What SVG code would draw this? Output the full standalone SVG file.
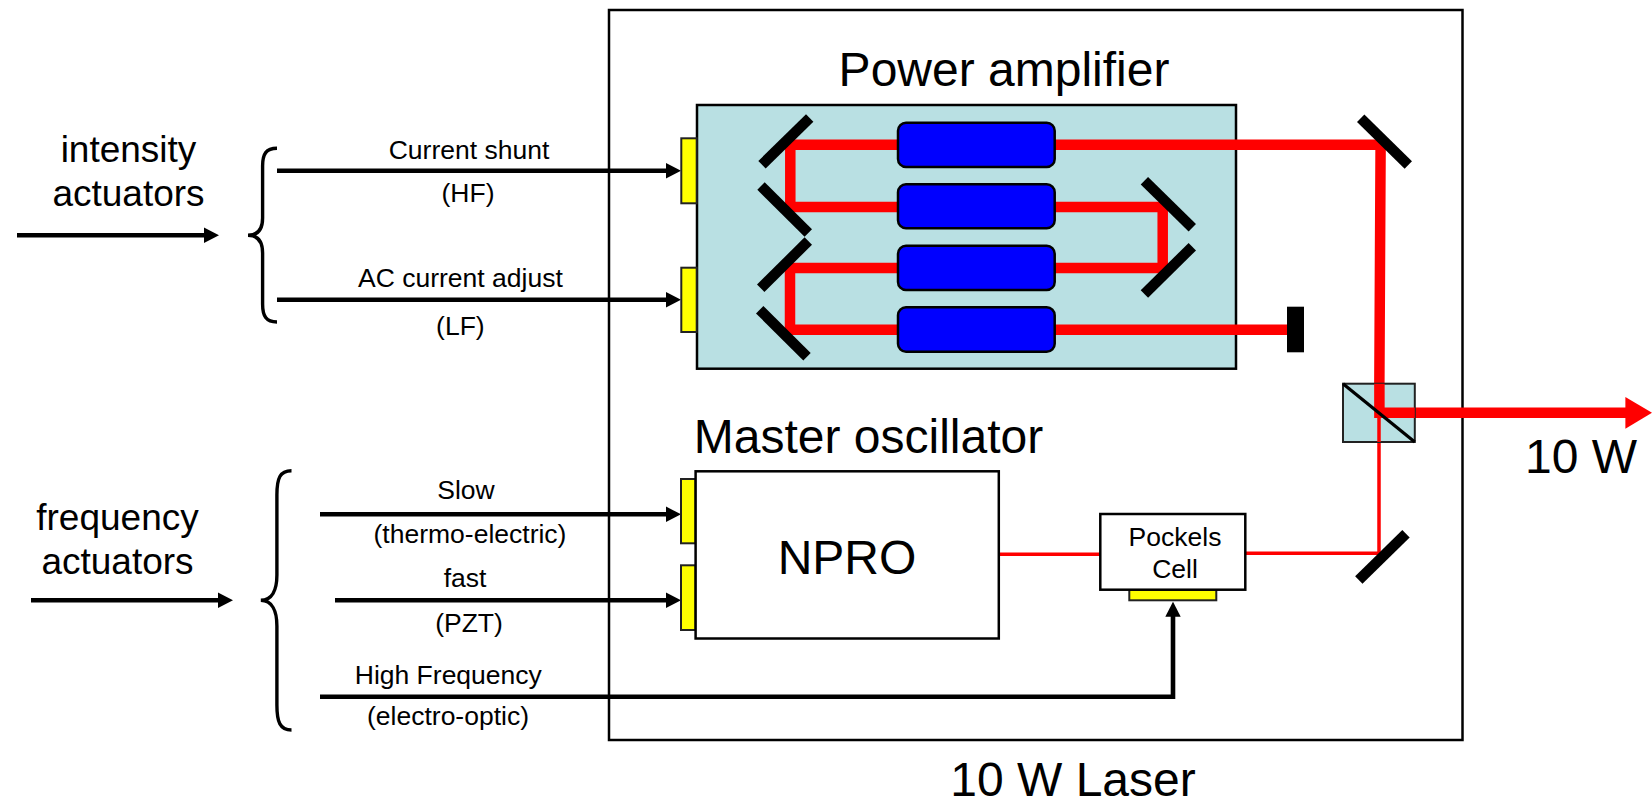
<svg xmlns="http://www.w3.org/2000/svg" width="1652" height="807" viewBox="0 0 1652 807">
<style>
text{font-family:"Liberation Sans",Arial,sans-serif;fill:#000;text-anchor:middle}
.xl{font-size:48px}.lg{font-size:37px}.sm{font-size:26.5px}
.box{fill:#fff;stroke:#000;stroke-width:2.5}
.panel{fill:#b9e0e3;stroke:#000;stroke-width:2.5}
.pzt{fill:#ff0;stroke:#222;stroke-width:2}
.amp{fill:#00f;stroke:#000;stroke-width:2.5}
.mirror{stroke:#000;stroke-width:10.5;fill:none}
.beam{stroke:#f00;stroke-width:10.5;fill:none}
.thin{stroke:#f00;stroke-width:3.5;fill:none}
.wire{stroke:#000;stroke-width:4.6;fill:none}
.arrow{marker-end:url(#head)}
.brace{stroke:#000;stroke-width:3.4;fill:none}
</style>
<defs>
<marker id="head" markerUnits="userSpaceOnUse" markerWidth="15" markerHeight="16" refX="4" refY="8" orient="auto"><path d="M0,0.3 L15,8 L0,15.7 z" fill="#000"/></marker>
</defs>
<rect width="1652" height="807" fill="#fff"/>
<g id="laser-box"><rect class="box" x="609" y="10" width="853.5" height="730" fill="none"/></g>
<g id="power-amplifier-panel"><rect class="panel" x="697" y="105" width="539" height="263.7"/></g>
<g id="connectors">
<path class="beam" d="M1054,144.7 H1380.6 L1379.2,412.7 H1628"/>
<path d="M1625.4,397 L1652,412.7 L1625.4,428.7 z" fill="#f00"/>
<path class="beam" d="M898,144.7 H790.3 V207 H898"/>
<path class="beam" d="M1054,207 H1162.7 V268 H1054"/>
<path class="beam" d="M898,268 H790 V329.7 H898"/>
<path class="beam" d="M1054,329.7 H1288"/>
<path class="thin" d="M999,554.3 H1101"/>
<path class="thin" d="M1245,553.3 H1379 V412"/>
<line class="wire arrow" x1="277" y1="170.7" x2="670" y2="170.7"/>
<line class="wire arrow" x1="277" y1="299.7" x2="670" y2="299.7"/>
<line class="wire arrow" x1="17" y1="235.3" x2="208" y2="235.3"/>
<line class="wire arrow" x1="31" y1="600.3" x2="222" y2="600.3"/>
<line class="wire arrow" x1="320" y1="514.3" x2="670" y2="514.3"/>
<line class="wire arrow" x1="335" y1="600.3" x2="670" y2="600.3"/>
<path class="wire arrow" d="M320,696.7 H1173 V612.7"/>
</g>
<g id="pzt-current-shunt"><rect class="pzt" x="681.3" y="138.3" width="15.4" height="65"/></g>
<g id="pzt-ac-adjust"><rect class="pzt" x="681.3" y="267.7" width="15.4" height="64.3"/></g>
<g id="pzt-slow"><rect class="pzt" x="681" y="479" width="14.6" height="64.3"/></g>
<g id="pzt-fast"><rect class="pzt" x="681" y="565.3" width="14.6" height="64.7"/></g>
<g id="amp-1"><rect class="amp" x="898" y="122.7" width="156.7" height="44.3" rx="8"/></g>
<g id="amp-2"><rect class="amp" x="898" y="184.3" width="156.7" height="44" rx="8"/></g>
<g id="amp-3"><rect class="amp" x="898" y="245.7" width="156.7" height="44.3" rx="8"/></g>
<g id="amp-4"><rect class="amp" x="898" y="307.3" width="156.7" height="44.4" rx="8"/></g>
<g id="mirrors">
<line class="mirror" x1="809.7" y1="118" x2="762" y2="164.7"/>
<line class="mirror" x1="761" y1="186" x2="808.3" y2="233"/>
<line class="mirror" x1="808.3" y1="241" x2="760.7" y2="288.3"/>
<line class="mirror" x1="759.7" y1="309.7" x2="807" y2="356.7"/>
<line class="mirror" x1="1144.4" y1="180.7" x2="1192.3" y2="227.7"/>
<line class="mirror" x1="1192.3" y1="246.7" x2="1144.4" y2="294"/>
<line class="mirror" x1="1360.7" y1="118.3" x2="1408.3" y2="165"/>
<line class="mirror" x1="1406" y1="533.7" x2="1358.8" y2="580"/>
</g>
<g id="beam-dump"><rect x="1287" y="306.7" width="17" height="45.6" fill="#000"/></g>
<g id="beam-splitter">
<rect x="1343" y="383.7" width="71.8" height="58.3" fill="#b9e0e3" stroke="#222" stroke-width="2"/>
<path class="beam" d="M1379.4,383.7 V412.7 H1414.8"/>
<path class="thin" d="M1379,412 V442"/>
<line x1="1343" y1="383.7" x2="1414.8" y2="442" stroke="#000" stroke-width="3.2"/>
</g>
<g id="npro"><rect class="box" x="695.6" y="471.3" width="303.2" height="167.2"/><text class="xl" x="847" y="574">NPRO</text></g>
<g id="pockels-cell">
<rect class="pzt" x="1129.3" y="589.7" width="87" height="10.6"/>
<rect class="box" x="1100.3" y="514" width="145" height="75.7"/>
<text class="sm" x="1175" y="546">Pockels</text><text class="sm" x="1175" y="578">Cell</text>
</g>
<g id="intensity-brace"><path class="brace" d="M277,148.3 C266,148.3 262.6,154 262.6,166 V218 C262.6,229 258,235.3 248,235.3 C258,235.3 262.6,242 262.6,253 V304 C262.6,316 266,322 277,322"/></g>
<g id="frequency-brace"><path class="brace" d="M291.5,470.7 C280,470.7 276.9,478 276.9,495 V575 C276.9,590 272,600.3 260.8,600.3 C272,600.3 276.9,611 276.9,626 V705 C276.9,722 280,730 291.5,730"/></g>
<g id="labels">
<text class="xl" x="1004" y="86">Power amplifier</text>
<text class="xl" x="868.5" y="453">Master oscillator</text>
<text class="xl" x="1581" y="473">10 W</text>
<text class="xl" x="1073" y="796">10 W Laser</text>
<text class="lg" x="128.5" y="162">intensity</text>
<text class="lg" x="128.5" y="206">actuators</text>
<text class="lg" x="117.5" y="530">frequency</text>
<text class="lg" x="117.5" y="574">actuators</text>
<text class="sm" x="469" y="159">Current shunt</text>
<text class="sm" x="468" y="202">(HF)</text>
<text class="sm" x="460.4" y="287">AC current adjust</text>
<text class="sm" x="460.4" y="335">(LF)</text>
<text class="sm" x="466" y="499">Slow</text>
<text class="sm" x="470" y="543">(thermo-electric)</text>
<text class="sm" x="465" y="587">fast</text>
<text class="sm" x="469" y="632">(PZT)</text>
<text class="sm" x="448.3" y="684">High Frequency</text>
<text class="sm" x="448" y="725">(electro-optic)</text>
</g>
</svg>
